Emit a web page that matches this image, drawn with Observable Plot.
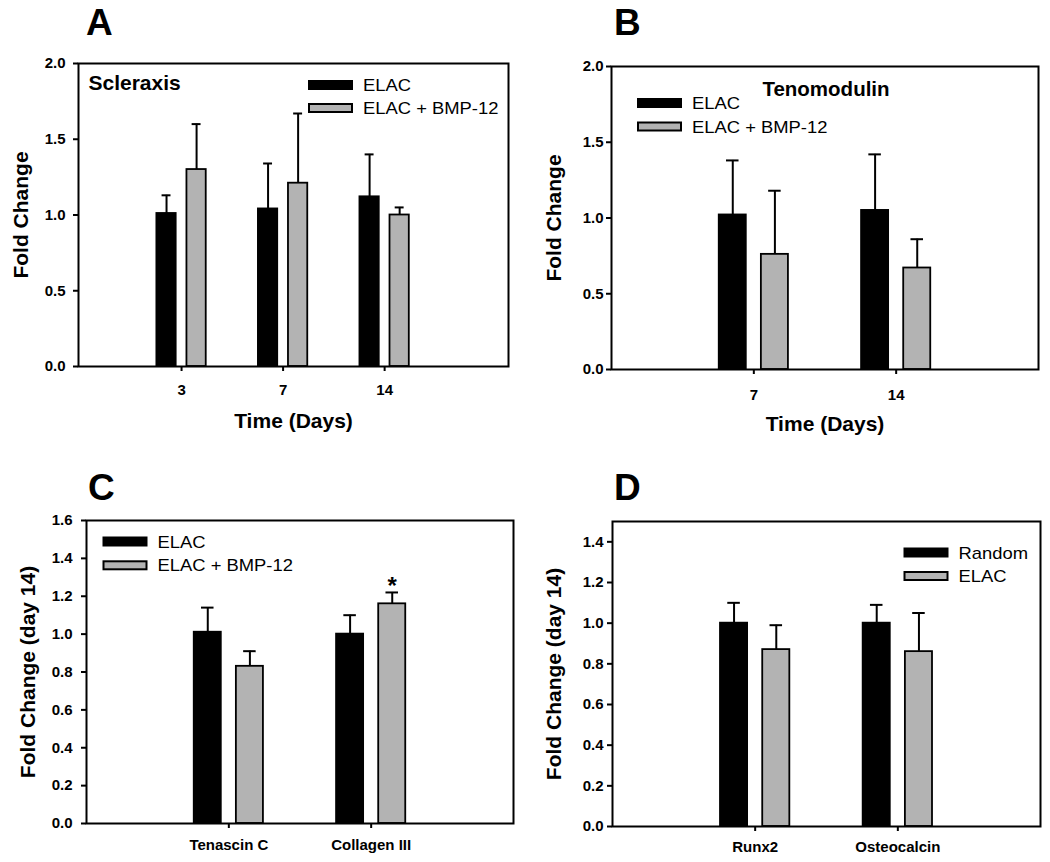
<!DOCTYPE html>
<html><head><meta charset="utf-8">
<script src="https://cdn.jsdelivr.net/npm/d3@7"></script>
<script src="https://cdn.jsdelivr.net/npm/@observablehq/plot@0.6"></script>
<style>
body{margin:0;background:#fff;font-family:"Liberation Sans",Arial,sans-serif;}
#root{position:relative;width:1050px;height:862px;overflow:hidden;background:#fff}
.panel{position:absolute}
#overlay{position:absolute;left:0;top:0;pointer-events:none}
</style>
</head><body>
<div id="root">
  <div class="panel" id="pA" style="left:0;top:0"></div>
  <div class="panel" id="pB" style="left:525px;top:0"></div>
  <div class="panel" id="pC" style="left:0;top:440px"></div>
  <div class="panel" id="pD" style="left:525px;top:440px"></div>
</div>
<script>
// ---- Data ----
// Panel A: Scleraxis
const daysA = ["3", "7", "14"];
const sclElac = [1.01, 1.04, 1.12];
const sclElacErr = [1.13, 1.34, 1.40];
const sclBmp = [1.30, 1.21, 1.00];
const sclBmpErr = [1.60, 1.67, 1.05];

// Panel B: Tenomodulin
const daysB = ["7", "14"];
const tnmdElac = [1.02, 1.05];
const tnmdElacErr = [1.38, 1.42];
const tnmdBmp = [0.76, 0.67];
const tnmdBmpErr = [1.18, 0.86];

// Panel C: day 14 genes
const genesC = ["Tenascin C", "Collagen III"];
const cElac = [1.01, 1.00];
const cElacErr = [1.14, 1.10];
const cBmp = [0.83, 1.16];
const cBmpErr = [0.91, 1.22];
const cBmpSig = ["", "*"];

// Panel D: osteogenic genes
const genesD = ["Runx2", "Osteocalcin"];
const dRandom = [1.00, 1.00];
const dRandomErr = [1.10, 1.09];
const dElac = [0.87, 0.86];
const dElacErr = [0.99, 1.05];

const seriesNamesABC = ["ELAC", "ELAC + BMP-12"];
const seriesNamesD = ["Random", "ELAC"];
const ticksA = [0, 0.5, 1.0, 1.5, 2.0];
const ticksC = [0, 0.2, 0.4, 0.6, 0.8, 1.0, 1.2, 1.4, 1.6];
const ticksD = [0, 0.2, 0.4, 0.6, 0.8, 1.0, 1.2, 1.4];

const COLORS = ["#000000", "#b3b3b3"];
const FONT = "Liberation Sans, Arial, sans-serif";
const OFF = 0.148, W = 0.19, CAP = 0.044;

function panel(cfg) {
  const rows = [];
  cfg.cats.forEach((c, i) => {
    cfg.series.forEach((s, g) => {
      rows.push({cat: c, pos: i + 1, g, v: s.v[i], e: s.e[i], star: s.sig ? s.sig[i] : ""});
    });
  });
  const cx = d => d.pos + (d.g === 0 ? -OFF : OFF);
  const marks = [
    Plot.ruleX(rows, {x: cx, y1: "v", y2: "e", stroke: "#000", strokeWidth: 2}),
    Plot.ruleY(rows, {y: "e", x1: d => cx(d) - CAP, x2: d => cx(d) + CAP, stroke: "#000", strokeWidth: 2}),
    Plot.rect(rows, {x1: d => cx(d) - W / 2, x2: d => cx(d) + W / 2, y1: 0, y2: "v",
      fill: d => COLORS[d.g], stroke: "#000", strokeWidth: 1.8}),
    Plot.text(rows.filter(d => d.star), {x: cx, y: "e", text: "star", dy: -6, fontSize: 24, fontWeight: "bold"}),
    Plot.frame({stroke: "#000", strokeWidth: 2}),
    Plot.axisY({ticks: cfg.yTicks, tickFormat: d3.format(".1f"), tickSize: 5, tickPadding: cfg.yPad,
      label: null, strokeWidth: 2, fill: "#000"}),
    Plot.axisX({ticks: cfg.cats.map((c, i) => i + 1), tickFormat: i => cfg.cats[i - 1], tickSize: 5,
      tickPadding: cfg.xPad, label: null, strokeWidth: 2, fill: "#000"}),
    Plot.text([cfg.yLabel], {text: d => d, frameAnchor: "left", rotate: -90, dx: cfg.yLabelDx,
      textAnchor: "middle", lineAnchor: "middle", fontSize: 21, fontWeight: "bold"})
  ];
  if (cfg.xLabel) marks.push(Plot.text([cfg.xLabel], {text: d => d, frameAnchor: "bottom", dy: cfg.xLabelDy,
      textAnchor: "middle", lineAnchor: "middle", fontSize: 21, fontWeight: "bold"}));
  if (cfg.title) marks.push(Plot.text([cfg.title], {text: d => d, frameAnchor: cfg.titleAnchor, dx: cfg.titleDx, dy: cfg.titleDy,
      textAnchor: cfg.titleAnchor === "top" ? "middle" : "start", lineAnchor: "middle", fontSize: cfg.titleSize, fontWeight: "bold"}));
  return Plot.plot({
    width: 525, height: cfg.height,
    marginTop: cfg.m[0], marginRight: cfg.m[1], marginBottom: cfg.m[2], marginLeft: cfg.m[3],
    x: {type: "linear", domain: cfg.xDomain},
    y: {type: "linear", domain: cfg.yDomain},
    style: {fontFamily: FONT, fontSize: "15px", fontWeight: "bold", background: "transparent", overflow: "visible", color: "#000"},
    marks
  });
}

document.getElementById("pA").append(panel({
  cats: daysA, height: 440, m: [63, 17, 74, 78], xDomain: [-0.015, 4.22], yDomain: [0, 2], yTicks: ticksA,
  series: [{v: sclElac, e: sclElacErr}, {v: sclBmp, e: sclBmpErr}],
  yPad: 8, xPad: 13, yLabel: "Fold Change", yLabelDx: -57, xLabel: "Time (Days)", xLabelDy: 55,
  title: "Scleraxis", titleAnchor: "top-left", titleDx: 10, titleDy: 20, titleSize: 21
}));
document.getElementById("pB").append(panel({
  cats: daysB, height: 440, m: [66, 12, 71, 86], xDomain: [0, 3], yDomain: [0, 2], yTicks: ticksA,
  series: [{v: tnmdElac, e: tnmdElacErr}, {v: tnmdBmp, e: tnmdBmpErr}],
  yPad: 3, xPad: 15, yLabel: "Fold Change", yLabelDx: -57, xLabel: "Time (Days)", xLabelDy: 55,
  title: "Tenomodulin", titleAnchor: "top", titleDx: 1, titleDy: 23, titleSize: 20.5
}));
document.getElementById("pC").append(panel({
  cats: genesC, height: 422, m: [80, 12, 39, 86], xDomain: [0, 3], yDomain: [0, 1.6], yTicks: ticksC,
  series: [{v: cElac, e: cElacErr}, {v: cBmp, e: cBmpErr, sig: cBmpSig}],
  yPad: 9, xPad: 11, yLabel: "Fold Change (day 14)", yLabelDx: -58
}));
document.getElementById("pD").append(panel({
  cats: genesD, height: 422, m: [81, 10, 36, 87], xDomain: [0, 3], yDomain: [0, 1.5], yTicks: ticksD,
  series: [{v: dRandom, e: dRandomErr}, {v: dElac, e: dElacErr}],
  yPad: 4, xPad: 10, yLabel: "Fold Change (day 14)", yLabelDx: -58
}));

// ---- Overlay: panel letters and legends ----
const ns = "http://www.w3.org/2000/svg";
const ov = document.createElementNS(ns, "svg");
ov.setAttribute("id", "overlay");
ov.setAttribute("width", 1050);
ov.setAttribute("height", 862);
ov.setAttribute("font-family", FONT);
document.getElementById("root").append(ov);
function el(tag, attrs, txt) {
  const e = document.createElementNS(ns, tag);
  for (const k in attrs) e.setAttribute(k, attrs[k]);
  if (txt != null) e.textContent = txt;
  ov.append(e);
  return e;
}
const letters = [["A", 86, 35], ["B", 614, 35], ["C", 88, 500], ["D", 614, 500]];
letters.forEach(([t, x, y]) => el("text", {x, y, "font-size": 37, "font-weight": "bold", fill: "#000"}, t));

function legend(x, ys, names) {
  names.forEach((n, g) => {
    const y = ys[g];
    if (g === 0) el("rect", {x, y, width: 45, height: 10, fill: COLORS[0]});
    else el("rect", {x: x + 1, y: y + 1, width: 43, height: 8, fill: COLORS[1], stroke: "#000", "stroke-width": 2});
    el("text", {transform: `translate(${x + 55},${y + 11}) scale(1.15,1)`, "font-size": 16, fill: "#000"}, n);
  });
}
legend(308, [80, 103], seriesNamesABC);
legend(637, [98, 121.5], seriesNamesABC);
legend(102.5, [536.5, 560.3], seriesNamesABC);
legend(903.5, [547.5, 571], seriesNamesD);
</script>
</body></html>
